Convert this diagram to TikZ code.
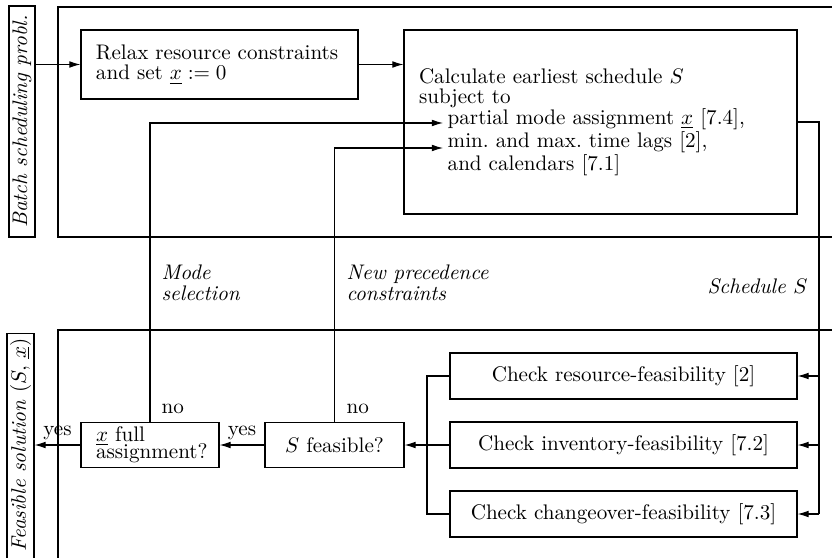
\documentclass[tikz,border=0pt]{standalone}
\usetikzlibrary{arrows.meta}
\begin{document}
\begin{tikzpicture}[x=0.474pt,y=-0.474pt, line width=0.5pt,
  sz/.style 2 args={minimum width=#1*0.474pt, minimum height=#2*0.474pt},
  box/.style={draw, inner sep=0pt, font=\fontsize{10}{9.75}\selectfont},
  side/.style={draw, rotate=90, inner sep=0pt, font=\itshape\fontsize{10}{12}\selectfont},
  arr/.style={-{Latex[length=5.3pt,width=3.2pt]}},
  lab/.style={inner sep=0pt, font=\itshape\fontsize{10}{10}\selectfont, align=left},
  plain/.style={inner sep=0pt, font=\fontsize{10}{10}\selectfont}]
\useasboundingbox (0,0) rectangle (832,558);

% frames
\draw (832,7) -- (58,7) -- (58,237) -- (832,237);
\draw (832,330) -- (58,330) -- (58,570);

% side labels
\node[side, sz={231}{26}] (batch) at (22,121.5) {Batch scheduling probl.};
\node[side, minimum height=27*0.474pt, inner xsep=2.4pt, anchor=east] (feas) at (20.5,333) {\hspace*{8pt}Feasible solution $(S,\,\underline{x})$};

% top boxes
\node[box, sz={277}{69}, text width=117.08pt, align=left] (relax) at (219.5,64.5)
  {Relax resource constraints\\ and set $\underline{x} := 0$};
\node[box, sz={393}{184}, text width=172.06pt, align=left] (calc) at (600.5,122)
  {Calculate earliest schedule $S$\\ subject to\\
   \hspace*{13.6pt}partial mode assignment $\underline{x}$ [7.4],\\
   \hspace*{13.6pt}min.\ and max.\ time lags [2],\\
   \hspace*{13.6pt}and calendars [7.1]};

% bottom boxes
\node[box, sz={347}{46}] (c1) at (623.5,376) {Check resource-feasibility [2]};
\node[box, sz={347}{46}] (c2) at (623.5,445) {Check inventory-feasibility [7.2]};
\node[box, sz={347}{46}] (c3) at (623.5,514) {Check changeover-feasibility [7.3]};
\node[box, sz={139}{45}] (sf) at (334.5,445) {$S$ feasible?};
\node[box, sz={138}{45}, text width=51.19pt, align=left] (xfull) at (150,445)
  {$\underline{x}$ full\\[-1.8pt]assignment?};

% labels
\node[lab, anchor=west] (mode) at (161,283) {Mode\\selection};
\node[lab, anchor=west] (prec) at (346,283) {New precedence\\constraints};
\node[lab, anchor=east] (sched) at (808,286) {Schedule $S$};
\node[plain, anchor=base west] (no1) at (161,413) {no};
\node[plain, anchor=base west] (no2) at (346,413) {no};

% coordinates
\coordinate (in1) at (443,123);
\coordinate (in2) at (443,148);
\coordinate (busT) at (819,122);
\coordinate (busB) at (819,514);
\coordinate (col) at (427,445);

% connectors
\draw[arr] (relax.west -| batch.south) -- (relax.west);
\draw[arr] (relax.east) -- (relax.east -| calc.west);
\draw[arr] (xfull.north) |- (in1);
\draw[arr] (sf.north) |- (in2);
\draw (calc.east) -- (busT) -- (busB);
\draw[arr] (c1.east -| busT) -- (c1.east);
\draw[arr] (c2.east -| busT) -- (c2.east);
\draw[arr] (c3.east -| busT) -- (c3.east);
\draw (c1.west) -| (col) |- (c3.west);
\draw[arr] (c2.west) -- (sf.east);
\draw[arr] (sf.west) -- (xfull.east) node[midway, above, plain, inner sep=2pt] (yes2) {yes};
\draw[arr] (xfull.west) -- (xfull.west -| feas.south) node[midway, above, plain, inner sep=2pt] (yes1) {yes};
\end{tikzpicture}
\end{document}
